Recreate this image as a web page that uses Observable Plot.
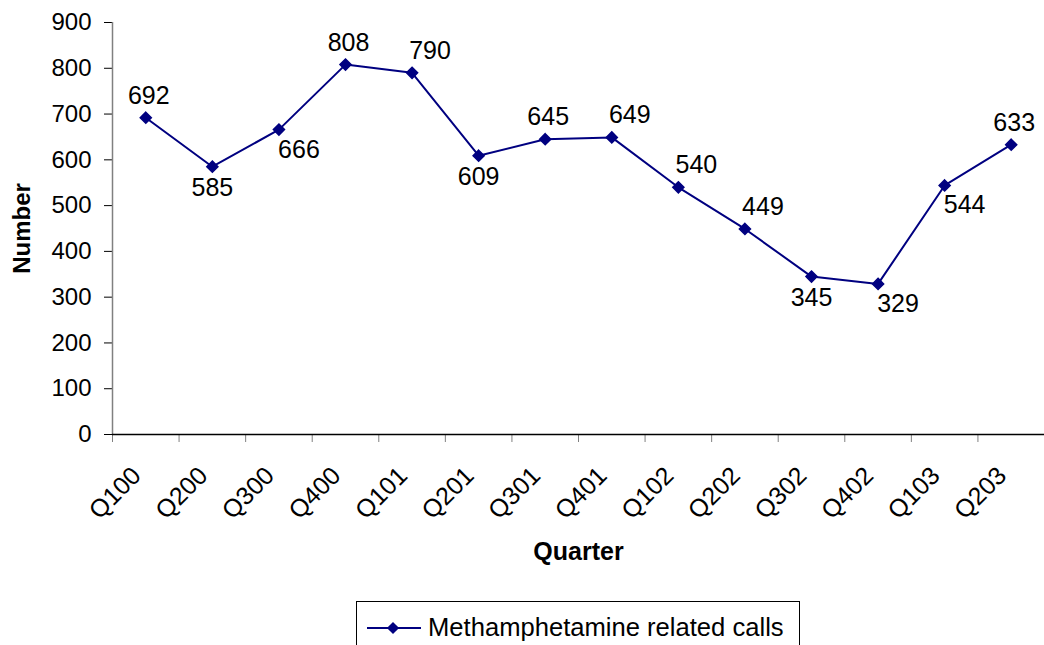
<!DOCTYPE html>
<html><head><meta charset="utf-8">
<script src="https://cdn.jsdelivr.net/npm/d3@7"></script>
<script src="https://cdn.jsdelivr.net/npm/@observablehq/plot@0.6"></script>
<style>
body{margin:0;background:#fff;font-family:"Liberation Sans",Arial,sans-serif;}
#wrap{position:relative;width:1044px;height:645px;overflow:hidden;background:#fff;}
#chart{position:absolute;left:0;top:0;}
#legend{position:absolute;left:356px;top:601px;width:444px;height:60px;border:1px solid #000;box-sizing:border-box;background:#fff;}
</style></head>
<body><div id="wrap"><div id="chart"></div><div id="legend"></div></div>
<script>
const quarters = ["Q100","Q200","Q300","Q400","Q101","Q201","Q301","Q401","Q102","Q202","Q302","Q402","Q103","Q203"];
const calls = [692,585,666,808,790,609,645,649,540,449,345,329,544,633];
const labelPlacement = ["n","s","se","n","ne","s","n","ne","ne","ne","s","se","se","n"];
const yTicks = [0,100,200,300,400,500,600,700,800,900];
const seriesName = "Methamphetamine related calls";
const xTitle = "Quarter";
const yTitle = "Number";

const navy = "#000080";
const data = quarters.map((q, i) => ({i, quarter: q, value: calls[i], place: labelPlacement[i]}));
const idx = d3.range(quarters.length);
const boundaries = d3.range(-0.5, quarters.length, 1);

const offsets = {n: [3, -22], s: [0, 21], ne: [18, -22], se: [20, 20]};
const labelMarks = Object.entries(offsets).map(([k, [dx, dy]]) =>
  Plot.text(data.filter(d => d.place === k), {
    x: "i", y: "value", text: d => String(d.value), dx, dy,
    fontSize: 25, fill: "#000"
  })
);

const W = 1044, H = 590;
const chart = Plot.plot({
  width: W, height: H,
  marginLeft: 112, marginRight: 0, marginTop: 22, marginBottom: H - 434,
  style: {fontFamily: '"Liberation Sans", Arial, sans-serif', background: "#fff", overflow: "visible"},
  x: {type: "linear", domain: [-0.5, quarters.length - 0.5]},
  y: {domain: [0, 900]},
  marks: [
    Plot.axisY({ticks: yTicks, tickSize: 8, tickPadding: 13, fontSize: 24, label: null, stroke: "#000", color: "#000"}),
    Plot.axisX({ticks: boundaries, tickSize: 8, tickFormat: () => "", label: null, stroke: "#808080"}),
    Plot.axisX({ticks: idx, tickSize: 0, tickPadding: 37, tickRotate: -45, dx: -9,
      tickFormat: i => quarters[i], fontSize: 25, label: null, color: "#000"}),
    Plot.ruleX([-0.5], {stroke: "#808080", strokeWidth: 1.5}),
    Plot.ruleY([0], {stroke: "#000", strokeWidth: 1.5}),
    Plot.line(data, {x: "i", y: "value", stroke: navy, strokeWidth: 2}),
    Plot.dot(data, {x: "i", y: "value", symbol: "diamond2", r: 5, fill: navy, stroke: navy}),
    ...labelMarks,
    Plot.text([yTitle], {frameAnchor: "left", dx: -90, rotate: -90, textAnchor: "middle", lineAnchor: "middle", fontSize: 24, fontWeight: "bold", fill: "#000"}),
    Plot.text([xTitle], {frameAnchor: "bottom", dy: 117, textAnchor: "middle", lineAnchor: "middle", fontSize: 25, fontWeight: "bold", fill: "#000"})
  ]
});
document.getElementById("chart").appendChild(chart);

// Legend
const lg = d3.select("#legend").append("svg").attr("width", 444).attr("height", 60);
lg.append("line").attr("x1", 10).attr("x2", 64).attr("y1", 26).attr("y2", 26).attr("stroke", navy).attr("stroke-width", 2);
lg.append("path").attr("d", d3.symbol(d3.symbolDiamond2, Math.PI * 30)()).attr("transform", "translate(36,26)").attr("fill", navy);
lg.append("text").attr("x", 71).attr("y", 34).attr("font-size", 25.6).attr("font-family", '"Liberation Sans", Arial, sans-serif').attr("fill", "#000").text(seriesName);
</script>
</body></html>
